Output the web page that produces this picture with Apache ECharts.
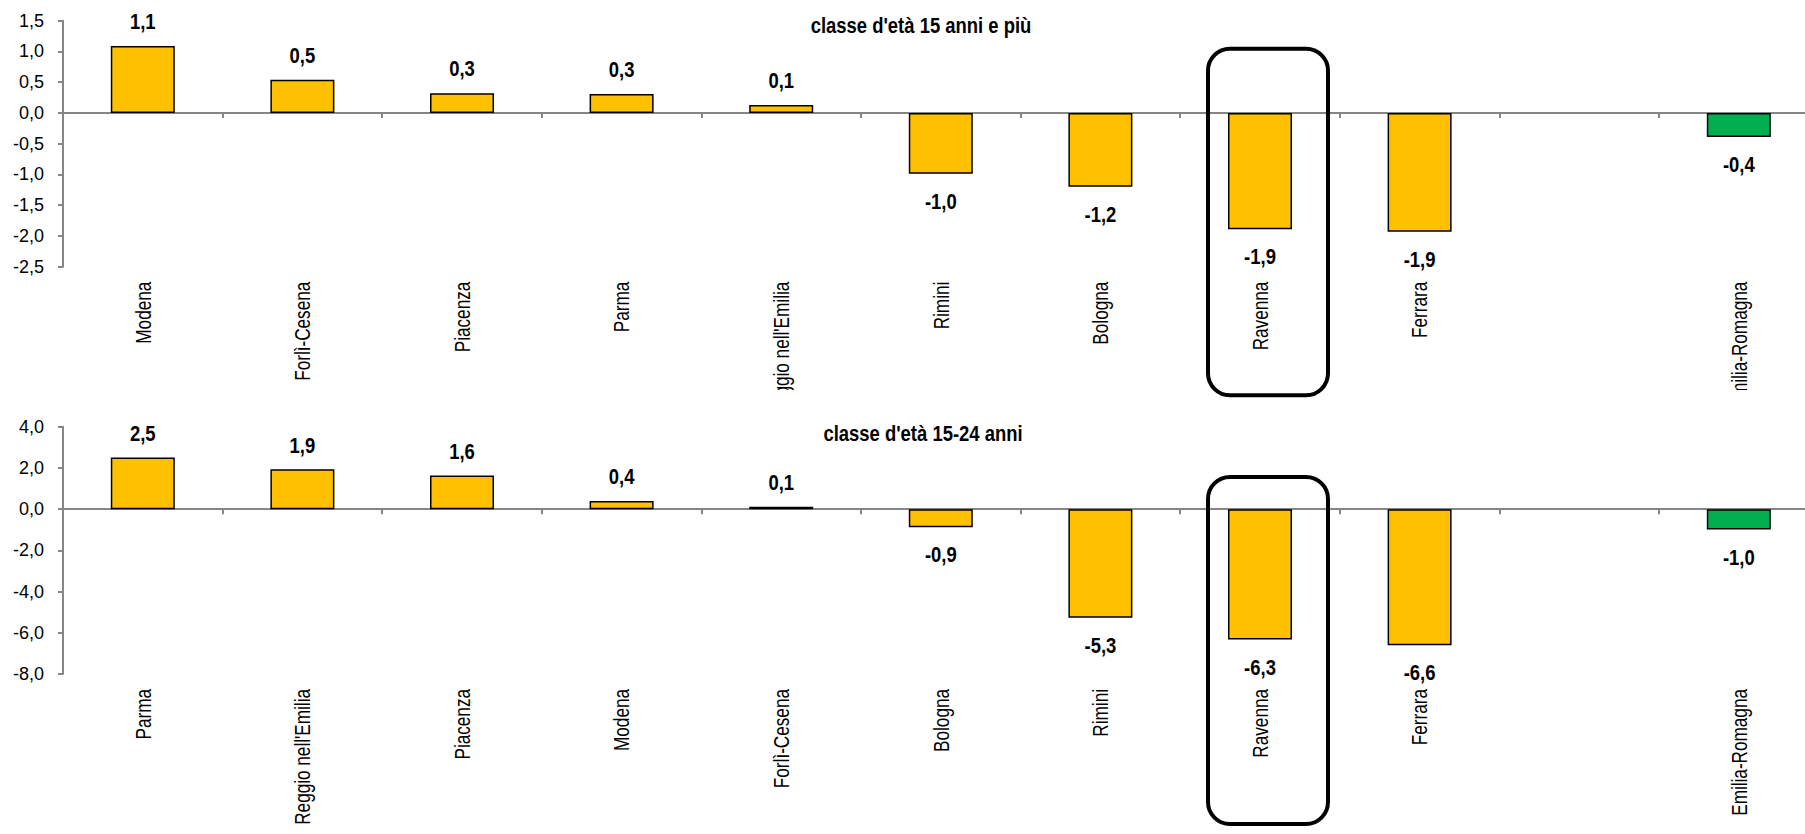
<!DOCTYPE html>
<html><head><meta charset="utf-8">
<script src="https://cdn.jsdelivr.net/npm/echarts@6/dist/echarts.min.js"></script>
<style>html,body{margin:0;padding:0;background:#fff}#c{width:1805px;height:834px}</style>
</head><body><div id="c"></div>
<script>
// ---- data ----
const titleTop = "classe d'età 15 anni e più";
const titleBottom = "classe d'età 15-24 anni";
const catsTop = ['Modena', 'Forlì-Cesena', 'Piacenza', 'Parma', "Reggio nell'Emilia", 'Rimini', 'Bologna', 'Ravenna', 'Ferrara', '', 'Emilia-Romagna'];
const valsTop = [1.09, 0.54, 0.32, 0.31, 0.13, -0.99, -1.2, -1.89, -1.93, null, -0.39];
const catsBottom = ['Parma', "Reggio nell'Emilia", 'Piacenza', 'Modena', 'Forlì-Cesena', 'Bologna', 'Rimini', 'Ravenna', 'Ferrara', '', 'Emilia-Romagna'];
const valsBottom = [2.51, 1.93, 1.63, 0.4, 0.12, -0.88, -5.27, -6.33, -6.6, null, -0.99];
const yTopScale = [-2.5, 1.5, 0.5];   // min, max, interval
const yBottomScale = [-8, 4, 2];
const highlighted = 'Ravenna';
const regionTotal = 'Emilia-Romagna';

// ---- style ----
const YELLOW = '#FFC000', GREEN = '#00B050', AXIS = '#868686';
const FONT = "'Liberation Sans', Arial, sans-serif";
const NARROW_SCALE = 0.82;
function fmt(v) { return Number(v).toFixed(1).replace('.', ','); }

function barData(cats, vals) {
  return vals.map((v, i) => v == null ? null : {
    value: v,
    itemStyle: { color: cats[i] === regionTotal ? GREEN : YELLOW }
  });
}
function labelData(vals) {
  const out = [];
  vals.forEach((v, i) => { if (v != null) out.push([i, v]); });
  return out;
}
function renderValue(params, api) {
  const v = api.value(1);
  const p = api.coord([api.value(0), v]);
  const pos = v >= 0;
  return {
    type: 'text', x: p[0], y: pos ? p[1] - 13.5 : p[1] + 15.5, scaleX: NARROW_SCALE, scaleY: 1,
    style: { text: fmt(v), font: "bold 22.5px " + FONT, fill: '#000',
      align: 'center', verticalAlign: pos ? 'bottom' : 'top' }
  };
}
function catRenderer(cats) {
  return function (params, api) {
    const i = api.value(0);
    const x = api.coord([i, 0])[0];
    const bottom = params.coordSys.y + params.coordSys.height;
    return {
      type: 'text', x: x, y: bottom + 15, rotation: Math.PI / 2, scaleX: 0.78, scaleY: 1,
      style: { text: cats[i], font: "22px " + FONT, fill: '#000', align: 'right', verticalAlign: 'middle' }
    };
  };
}
function xAxis(cats, gi) {
  return { type: 'category', gridIndex: gi, data: cats, position: 'bottom',
    axisLine: { show: true, onZero: true, lineStyle: { color: AXIS, width: 2 } },
    axisTick: { show: true, length: 5, interval: 0, lineStyle: { color: AXIS, width: 2 } },
    axisLabel: { show: false }, splitLine: { show: false } };
}
function yAxis(s, gi) {
  return { type: 'value', gridIndex: gi, min: s[0], max: s[1], interval: s[2],
    axisLine: { show: true, onZero: false, lineStyle: { color: AXIS, width: 2 } },
    axisTick: { show: true, length: 5, lineStyle: { color: AXIS, width: 2 } },
    splitLine: { show: false },
    axisLabel: { formatter: fmt, margin: 19, color: '#000', fontFamily: FONT, fontSize: 18 } };
}

const chart = echarts.init(document.getElementById('c'), null, { renderer: 'svg' });
chart.setOption({
  animation: false,
  grid: [
    { left: 63, top: 20.7, width: 1755.6, height: 246, outerBoundsMode: 'none', containLabel: false },
    { left: 63, top: 426.7, width: 1755.6, height: 247.3, outerBoundsMode: 'none', containLabel: false }
  ],
  xAxis: [xAxis(catsTop, 0), xAxis(catsBottom, 1)],
  yAxis: [yAxis(yTopScale, 0), yAxis(yBottomScale, 1)],
  series: [
    { type: 'bar', xAxisIndex: 0, yAxisIndex: 0, barWidth: 64, data: barData(catsTop, valsTop),
      itemStyle: { borderColor: '#000', borderWidth: 1.5 } },
    { type: 'bar', xAxisIndex: 1, yAxisIndex: 1, barWidth: 64, data: barData(catsBottom, valsBottom),
      itemStyle: { borderColor: '#000', borderWidth: 1.5 } },
    { type: 'custom', xAxisIndex: 0, yAxisIndex: 0, data: labelData(valsTop), renderItem: renderValue, z: 5, clip: false },
    { type: 'custom', xAxisIndex: 1, yAxisIndex: 1, data: labelData(valsBottom), renderItem: renderValue, z: 5, clip: false },
    { type: 'custom', xAxisIndex: 0, yAxisIndex: 0, data: catsTop.map((c, i) => [i, 0]), renderItem: catRenderer(catsTop), z: 5, clip: false },
    { type: 'custom', xAxisIndex: 1, yAxisIndex: 1, data: catsBottom.map((c, i) => [i, 0]), renderItem: catRenderer(catsBottom), z: 5, clip: false }
  ]
});

const rxTop = chart.convertToPixel({ xAxisIndex: 0 }, highlighted);
const rxBot = chart.convertToPixel({ xAxisIndex: 1 }, highlighted);
const titleFont = "bold 22.5px " + FONT;
chart.setOption({
  graphic: [
    { type: 'rect', z: 100, silent: true, shape: { x: 66, y: 390, width: 1739, height: 34 }, style: { fill: '#fff' } },
    { type: 'rect', z: 101, silent: true, shape: { x: rxTop + 8 - 60, y: 48.7, width: 120, height: 346.6, r: 22 },
      style: { fill: 'none', stroke: '#000', lineWidth: 4 } },
    { type: 'rect', z: 101, silent: true, shape: { x: rxBot + 8 - 60, y: 477, width: 120, height: 347, r: 22 },
      style: { fill: 'none', stroke: '#000', lineWidth: 4 } },
    { type: 'text', z: 102, x: 921, y: 25, scaleX: NARROW_SCALE, style: { text: titleTop, font: titleFont, fill: '#000', align: 'center', verticalAlign: 'middle' } },
    { type: 'text', z: 102, x: 923, y: 433, scaleX: NARROW_SCALE, style: { text: titleBottom, font: titleFont, fill: '#000', align: 'center', verticalAlign: 'middle' } }
  ]
});
</script>
</body></html>
